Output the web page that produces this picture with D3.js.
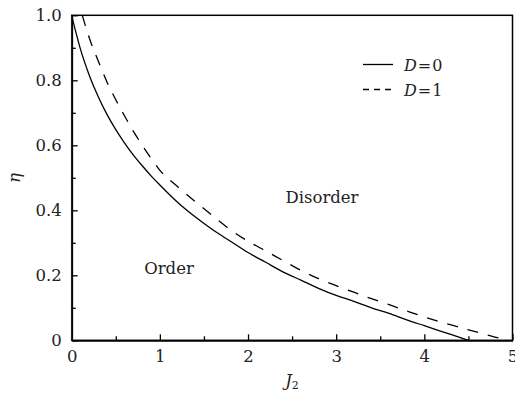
<!DOCTYPE html>
<html>
<head>
<meta charset="utf-8">
<script src="https://cdn.jsdelivr.net/npm/d3@7"></script>
<style>
  body { margin: 0; background: #fff; }
  svg text { font-family: "DejaVu Serif", serif; fill: #222; }
</style>
</head>
<body>
<div id="chart"></div>
<script>
// phase boundary eta(J2)
const j2D0 = [0, 0.05, 0.1, 0.2, 0.3, 0.4, 0.5, 0.6, 0.7, 0.8, 0.9, 1.0, 1.2, 1.4, 1.6, 1.8, 2.0, 2.2, 2.4, 2.6, 2.8, 3.0, 3.2, 3.4, 3.6, 3.8, 4.0, 4.2, 4.4, 4.5];
const etaD0 = [1.0, 0.945, 0.895, 0.815, 0.75, 0.695, 0.648, 0.607, 0.57, 0.537, 0.506, 0.478, 0.425, 0.38, 0.34, 0.305, 0.27, 0.24, 0.21, 0.185, 0.16, 0.138, 0.12, 0.10, 0.083, 0.063, 0.045, 0.027, 0.009, 0.0];

const j2D1 = [0.12, 0.2, 0.3, 0.4, 0.5, 0.6, 0.7, 0.8, 0.9, 1.0, 1.2, 1.4, 1.6, 1.8, 2.0, 2.2, 2.4, 2.6, 2.8, 3.0, 3.2, 3.4, 3.6, 3.8, 4.0, 4.2, 4.4, 4.6, 4.8, 4.95];
const etaD1 = [1.0, 0.93, 0.86, 0.795, 0.74, 0.69, 0.643, 0.6, 0.56, 0.523, 0.473, 0.427, 0.383, 0.34, 0.305, 0.275, 0.245, 0.215, 0.19, 0.168, 0.148, 0.128, 0.11, 0.09, 0.072, 0.055, 0.04, 0.025, 0.01, 0.0];

const xTicks = [0, 1, 2, 3, 4, 5];
const xMinor = [0.5, 1.5, 2.5, 3.5, 4.5];
const yTicks = [0, 0.2, 0.4, 0.6, 0.8, 1.0];
const yMinor = [0.1, 0.3, 0.5, 0.7, 0.9];

const legendLabels = ["0", "1"];

const width = 515, height = 396;
const mLeft = 71.7, mRight = 512.5, mTop = 15.3, mBottom = 340.3;

const svg = d3.select("#chart").append("svg")
  .attr("width", width)
  .attr("height", height);

const x = d3.scaleLinear().domain([0, 5]).range([mLeft, mRight]);
const y = d3.scaleLinear().domain([0, 1]).range([mBottom, mTop]);

// curves
const line = d3.line().x(d => x(d[0])).y(d => y(d[1])).curve(d3.curveMonotoneX);

const series = [
  { pts: d3.zip(j2D0, etaD0), dash: null },
  { pts: d3.zip(j2D1, etaD1), dash: "11,10" }
];

svg.selectAll("path.curve")
  .data(series)
  .enter()
  .append("path")
  .attr("class", "curve")
  .attr("d", d => line(d.pts))
  .attr("fill", "none")
  .attr("stroke", "#000")
  .attr("stroke-width", 1.3)
  .attr("stroke-dasharray", d => d.dash);

// frame
svg.append("rect")
  .attr("x", mLeft).attr("y", mTop)
  .attr("width", mRight - mLeft).attr("height", mBottom - mTop)
  .attr("fill", "none").attr("stroke", "#000").attr("stroke-width", 1.5);

// axes, ticks pointing inward
const xAxis = d3.axisBottom(x).tickValues(xTicks).tickSizeInner(-6).tickSizeOuter(0).tickPadding(10).tickFormat(d3.format("d"));
const gx = svg.append("g").attr("transform", `translate(0,${mBottom})`).call(xAxis);
svg.append("g").attr("transform", `translate(0,${mBottom})`)
  .call(d3.axisBottom(x).tickValues(xMinor).tickSizeInner(-4).tickSizeOuter(0).tickFormat(""));

const yAxis = d3.axisLeft(y).tickValues(yTicks).tickSizeInner(-6).tickSizeOuter(0).tickPadding(10)
  .tickFormat(d => d === 0 ? "0" : d3.format(".1f")(d));
const gy = svg.append("g").attr("transform", `translate(${mLeft},0)`).call(yAxis);
svg.append("g").attr("transform", `translate(${mLeft},0)`)
  .call(d3.axisLeft(y).tickValues(yMinor).tickSizeInner(-4).tickSizeOuter(0).tickFormat(""));

svg.selectAll(".domain").attr("stroke", "#000").attr("stroke-width", 1.5);
svg.selectAll(".tick line").attr("stroke", "#000").attr("stroke-width", 1.3);
svg.selectAll(".tick text").style("font-size", "16.5px").attr("fill", "#222");
gy.select(".domain").attr("stroke", "#555").attr("stroke-width", 2);

// axis titles
svg.append("text")
  .attr("x", 292).attr("y", 386)
  .attr("text-anchor", "middle")
  .style("font-size", "16.5px")
  .html('<tspan font-style="italic">J</tspan><tspan font-size="11px" dy="3">2</tspan>');

svg.append("text")
  .attr("transform", "translate(20,178) rotate(-90)")
  .attr("text-anchor", "middle")
  .style("font-size", "16.5px")
  .style("font-style", "italic")
  .text("η");

// region labels
svg.append("text").attr("x", 322).attr("y", 203).attr("text-anchor", "middle")
  .style("font-size", "16.5px").text("Disorder");
svg.append("text").attr("x", 169).attr("y", 274).attr("text-anchor", "middle")
  .style("font-size", "16.5px").text("Order");

// legend
const legend = svg.selectAll("g.leg")
  .data(series)
  .enter()
  .append("g")
  .attr("class", "leg")
  .attr("transform", (d, i) => `translate(363,${64.5 + i * 25})`);

legend.append("line")
  .attr("x1", 0).attr("x2", 30)
  .attr("stroke", "#000").attr("stroke-width", 1.3)
  .attr("stroke-dasharray", d => d.dash ? "6,5" : null);

legend.append("text")
  .attr("x", 41).attr("y", 6)
  .style("font-size", "16px")
  .html((d, i) => `<tspan font-style="italic">D</tspan><tspan dx="1">=</tspan><tspan dx="1">${legendLabels[i]}</tspan>`);
</script>
</body>
</html>
